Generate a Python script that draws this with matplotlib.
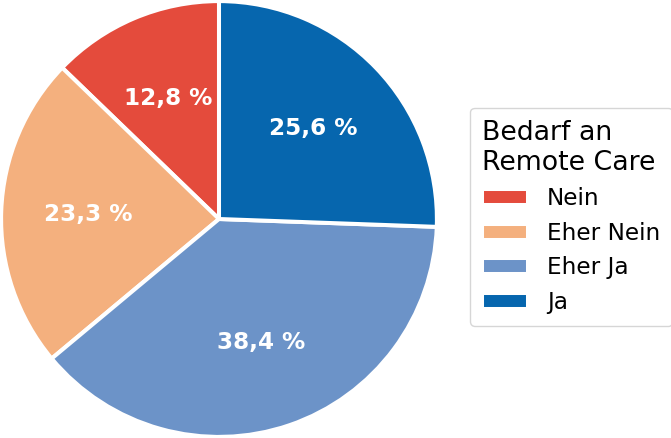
import matplotlib
matplotlib.use('Agg')
import matplotlib.pyplot as plt

labels = ['Nein', 'Eher Nein', 'Eher Ja', 'Ja']
values = [12.8, 23.3, 38.4, 25.6]
colors = ['#e44b3c', '#f4b07e', '#6c93c8', '#0666ae']

fig = plt.figure(figsize=(6.71, 4.38), dpi=100)
ax = fig.add_axes([0 / 671, 0 / 438, 438 / 671, 438 / 438])

wedges, texts, autotexts = ax.pie(
    values, colors=colors, startangle=90, counterclock=True,
    autopct=lambda p: ('%.1f %%' % p).replace('.', ','),
    pctdistance=0.6,
    wedgeprops=dict(edgecolor='white', linewidth=2.9),
    textprops=dict(color='white', fontsize=16.7, fontweight='bold'))
ax.set_xlim(-1.005, 1.005)
ax.set_ylim(-1.005, 1.005)
ax.set_aspect('equal')

leg = fig.legend(wedges, labels, title='Bedarf an\nRemote Care',
                 loc='center left', bbox_to_anchor=(470 / 671, 0.505),
                 borderaxespad=0, borderpad=0.52,
                 fontsize=16.7, title_fontsize=19.3, alignment='left')

fig.savefig('out.png', dpi=100)
